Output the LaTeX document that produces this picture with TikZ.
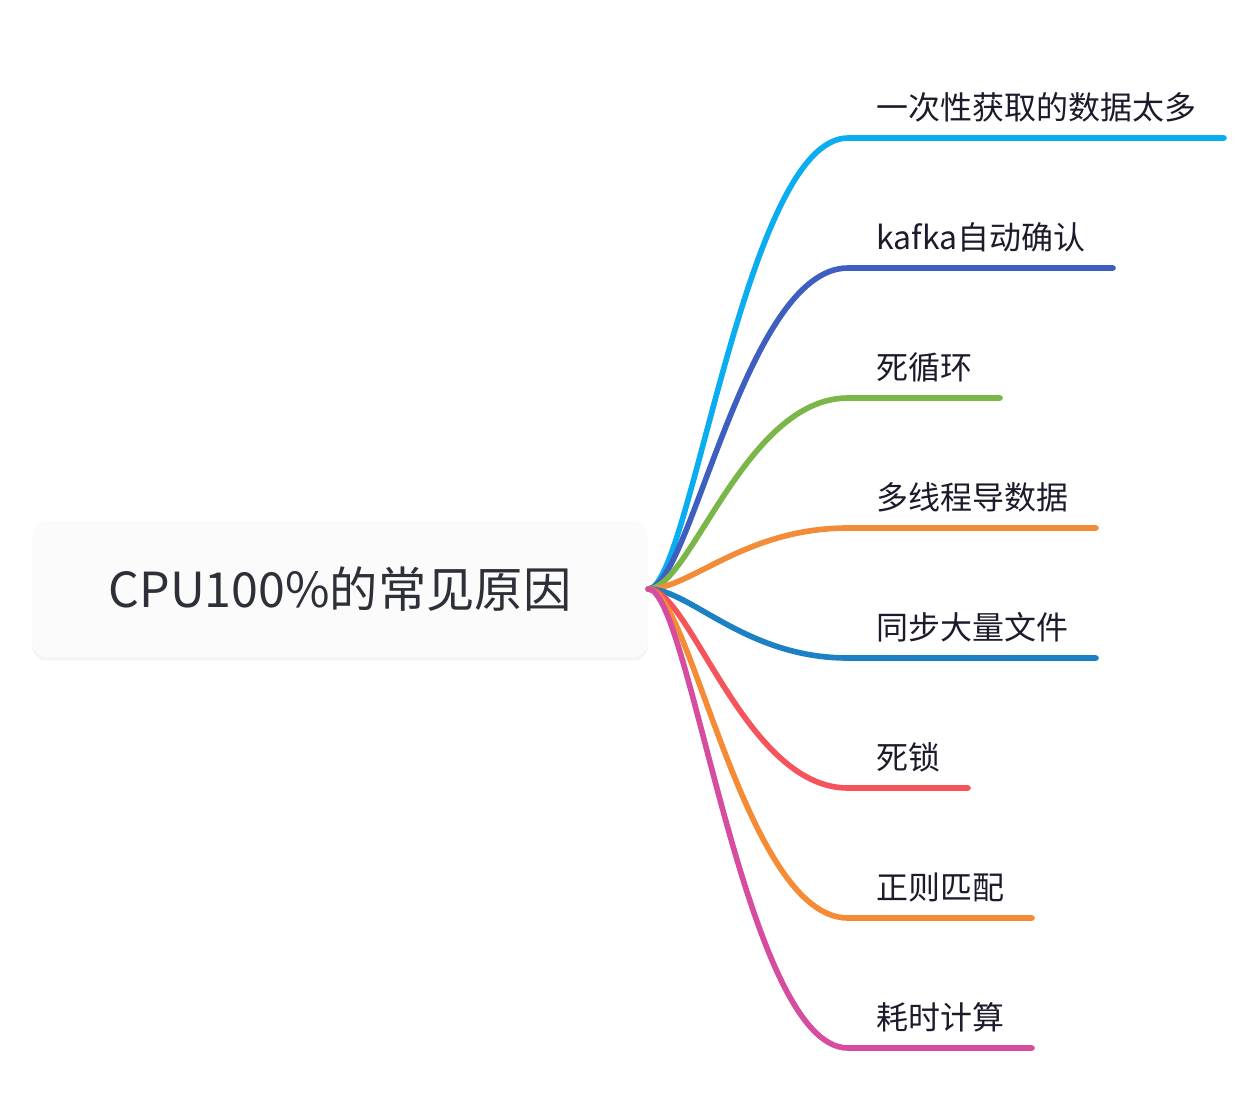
\documentclass[tikz,border=0pt]{standalone}
\usepackage{fontspec}
\setmainfont{Noto Sans CJK SC}
\usetikzlibrary{shadows}
\definecolor{c1}{HTML}{0AADEF}
\definecolor{c2}{HTML}{3F5FC0}
\definecolor{c3}{HTML}{7AB648}
\definecolor{c4}{HTML}{F28C38}
\definecolor{c5}{HTML}{1B80C4}
\definecolor{c6}{HTML}{F5545A}
\definecolor{c7}{HTML}{F58C35}
\definecolor{c8}{HTML}{D64C9E}
\definecolor{roottext}{HTML}{2D3038}
\definecolor{leaftext}{HTML}{1B1B2B}
\tikzset{
	rootbox/.style={rounded corners=0.3cm, fill=white!98.5!black, minimum width=12.32cm, minimum height=2.72cm,
		drop shadow={opacity=0.09, shadow xshift=0pt, shadow yshift=-2pt}, text=roottext,
		font=\fontsize{27.5}{30}\selectfont, inner sep=0pt},
	leaf/.style={anchor=base west, inner sep=0pt, text=leaftext, font=\fontsize{18.2}{21}\selectfont},
	branch/.style={line width=3.2pt, line cap=round}
}
\begin{document}
\begin{tikzpicture}[x=0.02cm, y=-0.02cm]
	\useasboundingbox (0, 0) rectangle (1254, 1102);
	% central topic
	\node[rootbox] (root) at (340, 589) {\raisebox{-0.08cm}{CPU100\%的常见原因}};
	% branches
	\foreach \y/\xend/\col/\txt [count=\i] in {
		138/1224/c1/一次性获取的数据太多,
		268/1113/c2/kafka自动确认,
		398/1000/c3/死循环,
		528/1096/c4/多线程导数据,
		658/1096/c5/同步大量文件,
		788/968/c6/死锁,
		918/1032/c7/正则匹配,
		1048/1032/c8/耗时计算} {
		\coordinate (s\i) at (848, \y);
		\coordinate (e\i) at (\xend, \y);
		\draw[branch, \col] (root.east) .. controls (690, 589) and (745, \y) .. (s\i) -- (e\i);
		\node[leaf] (t\i) at (876, \y - 19) {\txt};
	}
\end{tikzpicture}
\end{document}
